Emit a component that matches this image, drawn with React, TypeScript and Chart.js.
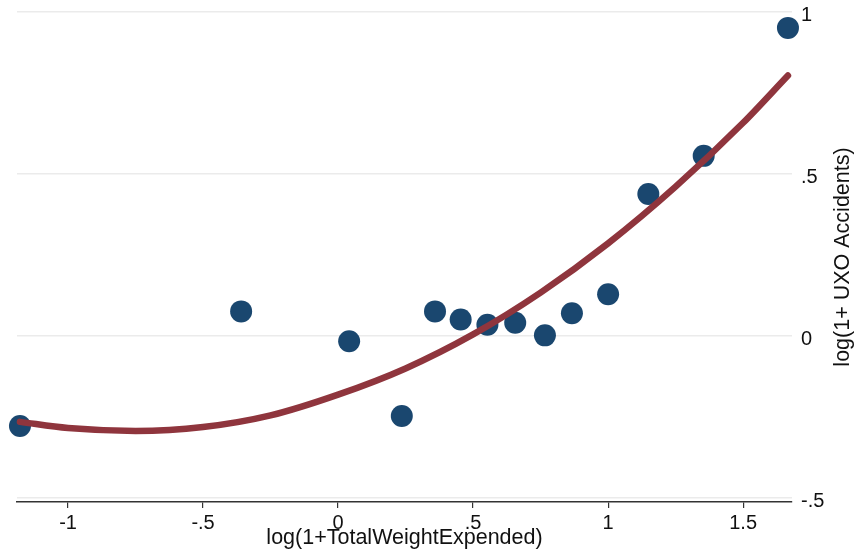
import React, { useEffect, useRef } from "react";
import { Chart, registerables } from "chart.js";

Chart.register(...registerables);

// Scatter data: log(1+TotalWeightExpended) vs log(1+ UXO Accidents)
const weightX = [-1.178, -0.359, 0.041, 0.236, 0.359, 0.454, 0.553, 0.656, 0.766, 0.866, 1.0, 1.149, 1.354, 1.666];
const accidentsY = [-0.278, 0.076, -0.016, -0.247, 0.076, 0.051, 0.035, 0.041, 0.002, 0.07, 0.129, 0.438, 0.556, 0.951];

// Fitted curve
const fitX = [-1.178, -1, -0.75, -0.5, -0.25, 0, 0.25, 0.5, 0.75, 1, 1.25, 1.5, 1.666];
const fitY = [-0.265, -0.284, -0.293, -0.281, -0.245, -0.181, -0.1, 0.005, 0.134, 0.286, 0.461, 0.658, 0.804];

const xTicks = [-1, -0.5, 0, 0.5, 1, 1.5];
const yTicks = [-0.5, 0, 0.5, 1];

const xTitle = "log(1+TotalWeightExpended)";
const yTitle = "log(1+ UXO Accidents)";

const FONT = '"Liberation Sans", Arial, sans-serif';

const fmt = (v: number) => (v === 0 ? "0" : String(v).replace("0.", "."));

const titlePlugin = {
  id: "axisTitles",
  afterDraw(chart: any) {
    const { ctx, chartArea } = chart;
    ctx.save();
    ctx.fillStyle = "#111";
    ctx.font = `21.5px ${FONT}`;
    ctx.textAlign = "center";
    ctx.textBaseline = "middle";
    ctx.fillText(xTitle, (chartArea.left + chartArea.right) / 2, 538);
    ctx.translate(843, (chartArea.top + chartArea.bottom) / 2);
    ctx.rotate(-Math.PI / 2);
    ctx.fillText(yTitle, 0, 0);
    ctx.restore();
  },
};

export default function App() {
  const ref = useRef<HTMLCanvasElement | null>(null);
  useEffect(() => {
    if (!ref.current) return;
    const chart = new Chart(ref.current, {
      type: "scatter",
      data: {
        datasets: [
          {
            type: "line",
            data: fitX.map((x, i) => ({ x, y: fitY[i] })),
            borderColor: "#8f353d",
            borderWidth: 6.5,
            borderCapStyle: "round",
            pointRadius: 0,
            showLine: true,
            fill: false,
            cubicInterpolationMode: "monotone",
            clip: false,
            order: 0,
          } as any,
          {
            type: "scatter",
            data: weightX.map((x, i) => ({ x, y: accidentsY[i] })),
            backgroundColor: "#1a476f",
            borderWidth: 0,
            pointRadius: 11,
            clip: false,
            order: 1,
          } as any,
        ],
      },
      options: {
        animation: false,
        responsive: false,
        events: [],
        layout: { padding: { left: 17, top: 12, right: 0, bottom: 0 } },
        plugins: { legend: { display: false }, tooltip: { enabled: false } },
        scales: {
          x: {
            type: "linear",
            min: -1.189,
            max: 1.681,
            afterBuildTicks: (s: any) => {
              s.ticks = xTicks.map((v) => ({ value: v }));
            },
            afterFit: (s: any) => {
              s.height = 52;
              s.paddingLeft = 0;
              s.paddingRight = 0;
            },
            border: { display: true, color: "#333", width: 1.5 },
            grid: { drawOnChartArea: false, drawTicks: true, tickLength: 6, color: "#333", lineWidth: 1.2 },
            ticks: {
              color: "#111",
              font: { family: FONT, size: 20 },
              padding: 3,
              maxRotation: 0,
              callback: (v: any) => fmt(Number(v)),
            },
          },
          y: {
            type: "linear",
            position: "right",
            min: -0.5123,
            max: 1,
            afterBuildTicks: (s: any) => {
              s.ticks = yTicks.map((v) => ({ value: v }));
            },
            afterFit: (s: any) => {
              s.width = 73;
              s.paddingTop = 0;
              s.paddingBottom = 0;
            },
            border: { display: false },
            grid: { color: "#ebebeb", lineWidth: 1.5, drawTicks: false },
            ticks: {
              color: "#111",
              font: { family: FONT, size: 20 },
              padding: 9,
              labelOffset: 3,
              callback: (v: any) => fmt(Number(v)),
            },
          },
        },
      },
      plugins: [titlePlugin],
    } as any);
    return () => chart.destroy();
  }, []);
  return (
    <div style={{ position: "absolute", left: 0, top: 0, width: 865, height: 554, background: "#fff" }}>
      <canvas ref={ref} width={865} height={554} />
    </div>
  );
}
